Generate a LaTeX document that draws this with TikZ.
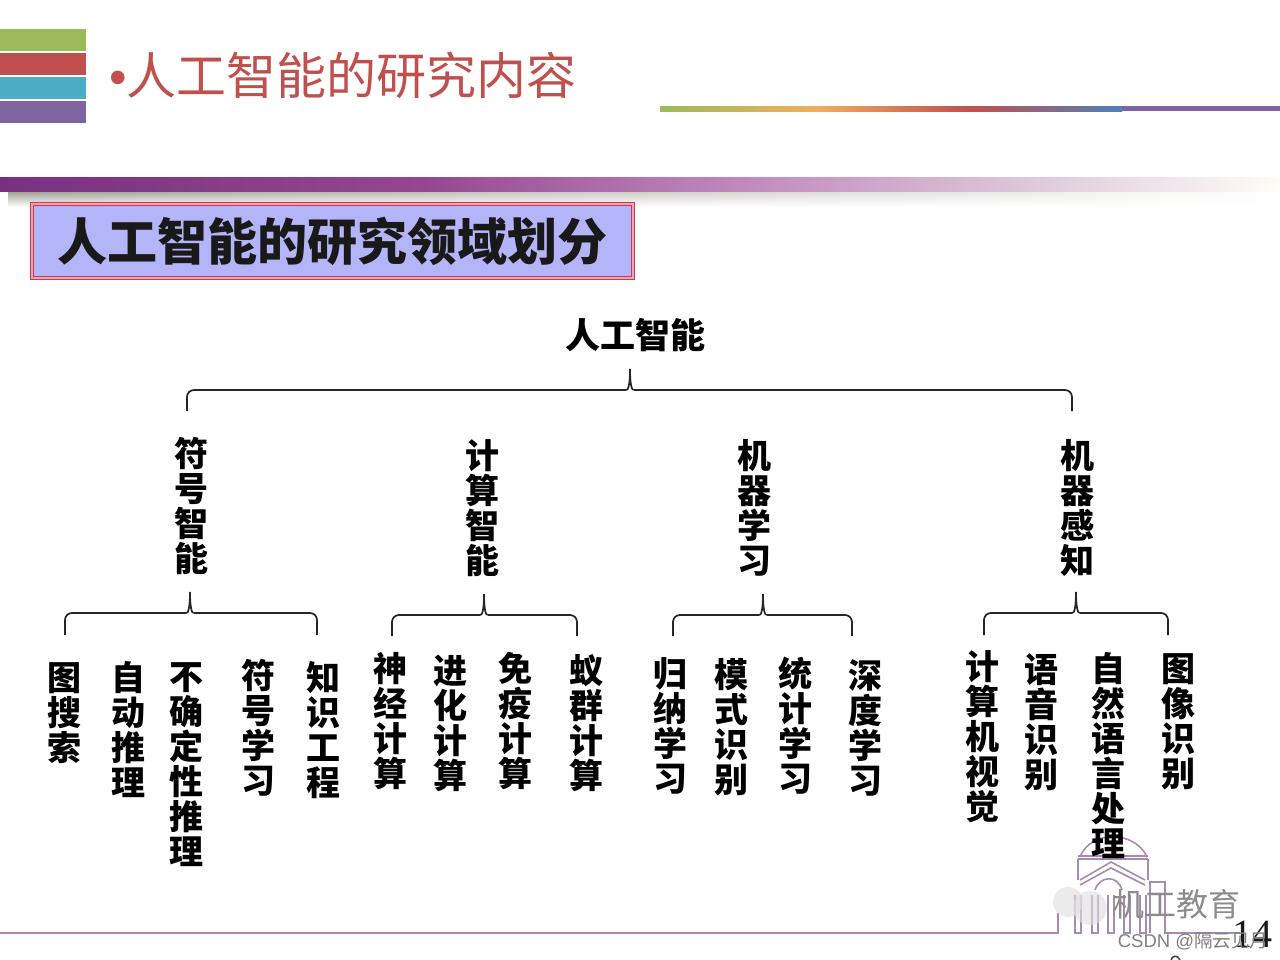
\documentclass[tikz,border=0pt]{standalone}
\usepackage{fontspec}
\newfontfamily\cjk{Noto Sans CJK SC}
\newfontfamily\numfont{Liberation Serif}
\newfontfamily\latfont{Liberation Sans}
\usetikzlibrary{calc}
\definecolor{bargreen}{HTML}{9BBB59}
\definecolor{barred}{HTML}{C0504D}
\definecolor{barteal}{HTML}{4BACC6}
\definecolor{barpurple}{HTML}{8064A2}
\definecolor{barorange}{HTML}{F2AE5C}
\definecolor{barblue}{HTML}{4F81BD}
\definecolor{footline}{HTML}{A48DB0}
\definecolor{boxfill}{HTML}{B4B4F8}
\definecolor{boxred}{HTML}{C83A50}
\definecolor{boxpink}{HTML}{F8A0B4}
\definecolor{bandA}{HTML}{7A3082}
\definecolor{bandB}{HTML}{94478F}
\definecolor{bandC}{HTML}{BC80B8}
\definecolor{bandD}{HTML}{DCC4D8}
\definecolor{bandE}{HTML}{FFFDF8}
\definecolor{shadowc}{HTML}{A09E92}
\newcommand{\bracket}[7]{%
  \coordinate (#1L) at (#2,#7);
  \coordinate (#1R) at (#4,#7);
  \coordinate (#1M) at (#3,#6);
  \coordinate (#1T) at (#3,#5);
  \draw[bracketline,rounded corners=7pt] (#1L) |- ($(#1M)+(-3.5,0)$);
  \draw[bracketline,rounded corners=7pt] (#1R) |- ($(#1M)+(3.5,0)$);
  \draw[bracketline] (#1T) .. controls +(0,14) and +(2,0) .. ($(#1M)+(-3.5,0)$);
  \draw[bracketline] (#1T) .. controls +(0,14) and +(-2,0) .. ($(#1M)+(3.5,0)$);
}
\tikzset{
  bracketline/.style={draw=black!85,line width=1.7pt},
  vlabel/.style={inner sep=0pt,align=center,text=black,font=\cjk\bfseries\fontsize{34}{35}\selectfont},
  stripe/.style={draw=none,minimum width=86pt,minimum height=22pt,inner sep=0pt,anchor=north west},
  build/.style={draw=footline,line width=1.6pt},
  seg/.style={draw=none,shading=axis,shading angle=90}
}
\begin{document}
\begin{tikzpicture}[x=1pt,y=-1pt]
\useasboundingbox (0,0) rectangle (1280,960);
\fill[white] (0,0) rectangle (1280,960);
% header stripes
\node[stripe,fill=bargreen] (s1) at (0,29) {};
\node[stripe,fill=barred] (s2) at (0,53) {};
\node[stripe,fill=barteal] (s3) at (0,77) {};
\node[stripe,fill=barpurple] (s4) at (0,101) {};
\node[inner sep=0pt,text=barred,font=\cjk\fontsize{50}{50}\selectfont] (title) at (343,75) {{\latfont •}人工智能的研究内容};
% colour rule
\shade[seg,left color=bargreen,right color=barorange] (660,106.5) rectangle (815,111.5);
\shade[seg,left color=barorange,right color=barred] (815,106.5) rectangle (970,111.5);
\shade[seg,left color=barred,right color=barblue] (970,106.5) rectangle (1122,111.5);
\fill[barpurple] (1122,106.5) rectangle (1280,111.5);
% shadow
\foreach \i in {0,...,39}{
  \pgfmathsetmacro{\p}{100-2.55*\i}
  \shade[draw=none,top color=shadowc!\p!white,bottom color=white]
    ({8+32*\i},191) rectangle ({8+32*(\i+1)+1},207);
}
% band
\shade[seg,left color=bandA,right color=bandB] (0,178) rectangle (420,192);
\shade[seg,left color=bandB,right color=bandC] (420,178) rectangle (700,192);
\shade[seg,left color=bandC,right color=bandD] (700,178) rectangle (1010,192);
\shade[seg,left color=bandD,right color=bandE] (1010,178) rectangle (1280,192);
% heading box
\node[draw=boxred,line width=1pt,double=boxpink,double distance=2pt,fill=boxfill,minimum width=601pt,minimum height=73pt,inner sep=0pt,font=\cjk\bfseries\fontsize{50}{50}\selectfont,text=black!90] (head) at (332,241) {人工智能的研究领域划分};
% root
\node[inner sep=0pt,font=\cjk\bfseries\fontsize{35}{35}\selectfont,text=black] (root) at (635,335) {人工智能};
\bracket{a}{187}{630}{1072}{369}{390}{411}
% level 1
\node[vlabel] (p1) at (191,506) {符\\号\\智\\能};
\node[vlabel] (p2) at (482,508) {计\\算\\智\\能};
\node[vlabel] (p3) at (754,508) {机\\器\\学\\习};
\node[vlabel] (p4) at (1077,508) {机\\器\\感\\知};
\bracket{b}{65}{190}{317}{592}{613}{635}
\bracket{c}{392}{484}{577}{594}{615}{636}
\bracket{d}{673}{763}{852}{594}{615}{636}
\bracket{e}{984}{1076}{1168}{592}{613}{635}
% level 2
\node[vlabel] (l1) at (64,713) {图\\搜\\索};
\node[vlabel] (l2) at (128,730) {自\\动\\推\\理};
\node[vlabel] (l3) at (186,765) {不\\确\\定\\性\\推\\理};
\node[vlabel] (l4) at (258,728) {符\\号\\学\\习};
\node[vlabel] (l5) at (323,730) {知\\识\\工\\程};
\node[vlabel] (l6) at (390,721) {神\\经\\计\\算};
\node[vlabel] (l7) at (450,723) {进\\化\\计\\算};
\node[vlabel] (l8) at (515,721) {免\\疫\\计\\算};
\node[vlabel] (l9) at (586,723) {蚁\\群\\计\\算};
\node[vlabel] (l10) at (670,726) {归\\纳\\学\\习};
\node[vlabel] (l11) at (731,727) {模\\式\\识\\别};
\node[vlabel] (l12) at (795,726) {统\\计\\学\\习};
\node[vlabel] (l13) at (865,728) {深\\度\\学\\习};
\node[vlabel] (l14) at (982,737) {计\\算\\机\\视\\觉};
\node[vlabel] (l15) at (1041,722) {语\\音\\识\\别};
\node[vlabel] (l16) at (1178,722) {图\\像\\识\\别};
% footer
\draw[build] (0,933) -- (1058,933) -- (1058,913);
\draw[build] (1240,933) -- (1165,933) -- (1165,882) -- (1150,882) -- (1150,933);
\draw[build] (1080,857) .. controls (1090,830) and (1135,830) .. (1147,857);
\draw[build] (1078,856) -- (1148,856);
\draw[build] (1078,859) -- (1148,859);
\draw[build] (1078,859) -- (1078,880);
\draw[build] (1148,859) -- (1148,880);
\draw[build] (1080,880) -- (1111,862) -- (1145,880);
\draw[build] (1080,885) -- (1111,868) -- (1145,885);
\draw[build] (1095,890) .. controls (1100,875) and (1118,875) .. (1122,890);
\foreach \cx in {1075,1092,1108,1124,1140}{
  \draw[build] (\cx,895) -- (\cx,933) -- (\cx+6,933) -- (\cx+6,895);
}
\node[vlabel] (l17) at (1108,756) {自\\然\\语\\言\\处\\理};
% watermark
\fill[gray!25,opacity=.6] (1068,902) circle (15pt);
\fill[gray!25,opacity=.6] (1090,908) circle (17pt);
\node[inner sep=0pt,text=black!45,font=\cjk\fontsize{32}{32}\selectfont] (wm) at (1176,904) {机工教育};
\node[inner sep=0pt,text=black!90,font=\numfont\fontsize{40}{40}\selectfont] (pg) at (1252,934) {14};
\node[inner sep=0pt,text=black!50,font=\cjk\fontsize{18.5}{19}\selectfont] (csdn) at (1193,941) {{\latfont CSDN @}隔云见月};
\draw[black!70,line width=1.6pt] (1171,960) .. controls (1172,955) and (1178,955) .. (1180,960);
\end{tikzpicture}
\end{document}
